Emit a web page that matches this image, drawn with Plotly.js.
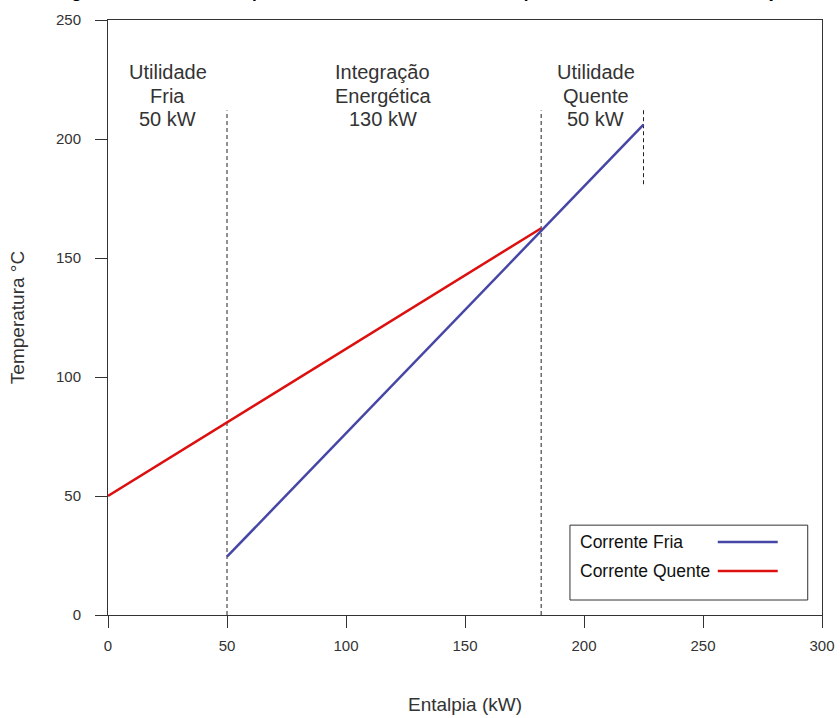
<!DOCTYPE html>
<html>
<head>
<meta charset="utf-8">
<script src="https://cdn.plot.ly/plotly-3.0.1.min.js"></script>
<style>html,body{margin:0;padding:0;background:#fff;}#chart{width:840px;height:718px;}</style>
</head>
<body>
<div id="chart"></div>
<script>
// Data
const coldEnthalpy = [50, 225];
const coldTemp = [24.5, 206];
const hotEnthalpy = [0, 182];
const hotTemp = [50, 162.5];
const dividerX = [50, 182];
const dividerTop = 212;
const hotEndX = 225;
const hotEndRange = [181, 213];
const seriesNames = ["Corrente Fria", "Corrente Quente"];
const regionX = [25, 115.5, 205];
const regionLabels = [
  ["Utilidade", "Fria", "50 kW"],
  ["Integração", "Energética", "130 kW"],
  ["Utilidade", "Quente", "50 kW"]
];
const regionLineY = [228.2, 218.1, 208.2];
const xTicks = [0, 50, 100, 150, 200, 250, 300];
const yTicks = [0, 50, 100, 150, 200, 250];
const titleText = "Diagrama de Curvas Compostas e Utilidades Mínimas: Temperatura e Demanda de Utilização";

const blue = "#4646a6";
const red = "#dd1010";
const ink = "#333333";
const font = "Liberation Sans, Arial, sans-serif";

const traces = [];
dividerX.forEach(x => {
  traces.push({x: [x, x], y: [0, dividerTop], mode: "lines", line: {color: "#222", width: 1, dash: "4px,3px"}, hoverinfo: "skip", showlegend: false});
});
traces.push({x: [hotEndX, hotEndX], y: hotEndRange, mode: "lines", line: {color: "#222", width: 1, dash: "4px,3px"}, hoverinfo: "skip", showlegend: false});
traces.push({x: hotEnthalpy, y: hotTemp, mode: "lines", name: seriesNames[1], line: {color: red, width: 2.5}, showlegend: false});
traces.push({x: coldEnthalpy, y: coldTemp, mode: "lines", name: seriesNames[0], line: {color: blue, width: 2.5}, showlegend: false});

const annotations = [];
regionX.forEach((x, i) => {
  regionLabels[i].forEach((line, j) => {
    annotations.push({
      x: x, y: regionLineY[j], xref: "x", yref: "y", text: line, showarrow: false,
      xanchor: "center", yanchor: "middle", align: "center",
      font: {family: font, size: 20, color: ink}
    });
  });
});
// title (clipped at the top edge as in the reference)
annotations.push({x: 0.437, y: 1.0455, xref: "paper", yref: "paper", text: "<b>" + titleText + "</b>",
  showarrow: false, xanchor: "center", yanchor: "middle", font: {family: font, size: 17, color: "#000"}});
// legend (text left, line sample right)
const legY = [0.1227, 0.074];
seriesNames.forEach((n, i) => {
  annotations.push({x: 0.658, y: legY[i], xref: "paper", yref: "paper", text: n, showarrow: false,
    xanchor: "left", yanchor: "middle", font: {family: font, size: 17.5, color: "#111"}});
});
const shapes = [
  {type: "rect", xref: "paper", yref: "paper", x0: 0.647, x1: 0.980, y0: 0.0252, y1: 0.151, line: {color: ink, width: 1}, fillcolor: "rgba(0,0,0,0)"},
  {type: "line", xref: "paper", yref: "paper", x0: 0.854, x1: 0.938, y0: legY[0], y1: legY[0], line: {color: blue, width: 2.5}},
  {type: "line", xref: "paper", yref: "paper", x0: 0.854, x1: 0.938, y0: legY[1], y1: legY[1], line: {color: red, width: 2.5}}
];

const axisCommon = {
  showgrid: false, zeroline: false, showline: true, linecolor: ink, linewidth: 1, mirror: true,
  ticks: "outside", ticklen: 12, tickcolor: ink, tickwidth: 1,
  tickfont: {family: font, size: 15, color: ink}, fixedrange: true
};

const layout = {
  width: 840, height: 718,
  margin: {l: 108, r: 18, t: 20, b: 103},
  paper_bgcolor: "#fff", plot_bgcolor: "#fff",
  xaxis: Object.assign({}, axisCommon, {range: [0, 300], tickvals: xTicks, ticktext: xTicks.map(String),
    ticklabelstandoff: 5,
    title: {text: "Entalpia (kW)", font: {family: font, size: 19, color: ink}, standoff: 44}}),
  yaxis: Object.assign({}, axisCommon, {range: [0, 250], tickvals: yTicks, ticktext: yTicks.map(String),
    ticklabelstandoff: 11,
    title: {text: "Temperatura °C", font: {family: font, size: 19, color: ink}, standoff: 26}}),
  annotations: annotations,
  shapes: shapes,
  showlegend: false
};

Plotly.newPlot("chart", traces, layout, {displayModeBar: false, staticPlot: true});
</script>
</body>
</html>
